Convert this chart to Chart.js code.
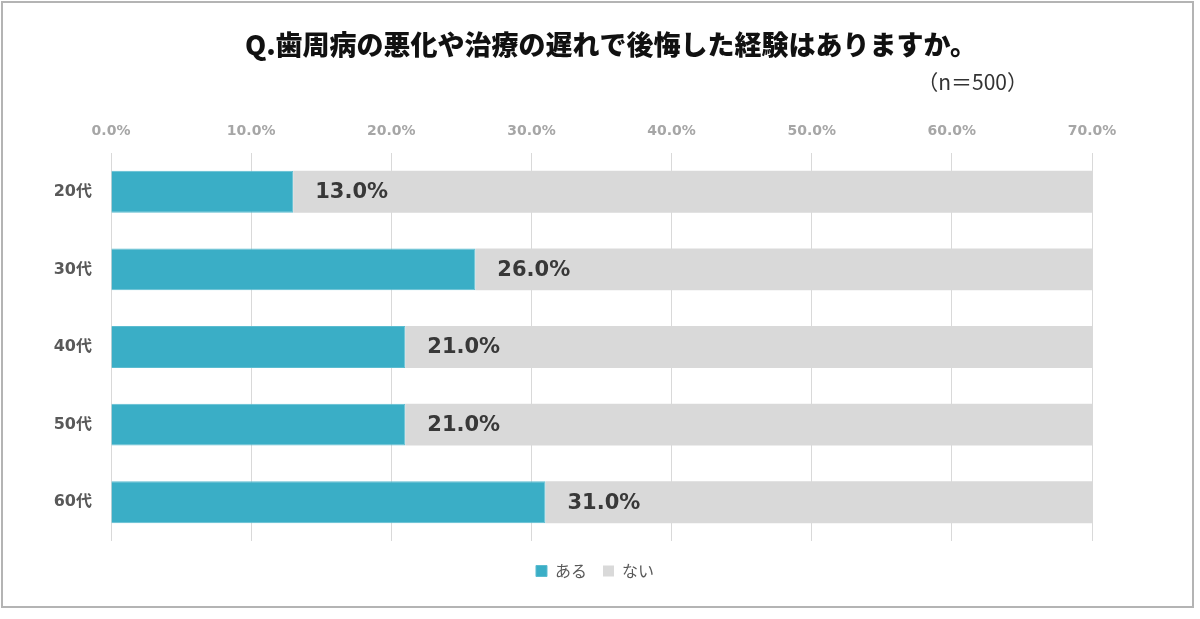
<!DOCTYPE html>
<html lang="ja">
  <head>
    <meta charset="UTF-8" />
    <title>歯周病アンケート</title>
    <style>
      html,
      body {
        margin: 0;
        padding: 0;
        background: #fff;
      }
      .frame {
        position: absolute;
        left: 1px;
        top: 1px;
        width: 1189px;
        height: 603px;
        border: 2px solid #b4b4b4;
      }
      .chart-box {
        position: absolute;
        left: 0;
        top: 0;
        width: 1200px;
        height: 619px;
      }
    </style>
  </head>
  <body>
    <div class="frame"></div>
    <div class="chart-box"><canvas id="mychart"></canvas></div>

    <script src="https://cdn.jsdelivr.net/npm/chart.js@4/dist/chart.umd.min.js"></script>
    <script>
      // データ
      const ages = ["20代", "30代", "40代", "50代", "60代"];
      const yes = [13.0, 26.0, 21.0, 21.0, 31.0];
      const no = [87.0, 74.0, 79.0, 79.0, 69.0];
      const xTicks = [0, 10, 20, 30, 40, 50, 60, 70];

      const titleText = "Q.歯周病の悪化や治療の遅れで後悔した経験はありますか。";
      const nText = "（n＝500）";

      const labelFont = "'DejaVu Sans', 'Noto Sans CJK JP', sans-serif";
      const jpFont = "'Noto Sans CJK JP', sans-serif";

      // タイトル・n数・棒の右の数値
      const textPlugin = {
        id: "textPlugin",
        afterDatasetsDraw(chart) {
          const ctx = chart.ctx;
          const meta = chart.getDatasetMeta(0);
          ctx.save();
          ctx.font = "bold 21px " + labelFont;
          ctx.fillStyle = "#383838";
          ctx.textAlign = "left";
          ctx.textBaseline = "middle";
          meta.data.forEach((bar, i) => {
            ctx.fillText(yes[i].toFixed(1) + "%", bar.x + 22, bar.y + 1);
          });

          ctx.font = "900 27px " + jpFont;
          ctx.fillStyle = "#111";
          ctx.textAlign = "center";
          ctx.fillText(titleText, 611, 45);

          ctx.font = "21px " + jpFont;
          ctx.fillStyle = "#333";
          ctx.textAlign = "right";
          ctx.fillText(nText, 1028, 82);
          ctx.restore();
        },
      };

      new Chart(document.getElementById("mychart"), {
        type: "bar",
        data: {
          labels: ages,
          datasets: [
            {
              label: "ある",
              data: yes,
              backgroundColor: "#3aaec6",
              borderColor: "#5cbcd0",
              borderWidth: 1,
            },
            {
              label: "ない",
              data: no,
              backgroundColor: "#d9d9d9",
              borderWidth: 0,
            },
          ],
        },
        options: {
          indexAxis: "y",
          responsive: true,
          maintainAspectRatio: false,
          animation: false,
          layout: {
            padding: { left: 0, right: 10, top: 111, bottom: 30 },
          },
          datasets: {
            bar: { barPercentage: 0.54, categoryPercentage: 1 },
          },
          scales: {
            x: {
              position: "top",
              stacked: true,
              min: 0,
              max: 70,
              afterBuildTicks(scale) {
                scale.ticks = xTicks.map((v) => ({ value: v }));
              },
              afterFit(scale) {
                scale.height = 42;
              },
              ticks: {
                color: "#a6a6a6",
                font: { family: labelFont, size: 14, weight: "bold" },
                padding: 13,
                callback: (v) => v.toFixed(1) + "%",
              },
              grid: { color: "#d9d9d9", drawTicks: false },
              border: { display: false },
            },
            y: {
              stacked: true,
              afterFit(scale) {
                scale.width = 111;
              },
              ticks: {
                color: "#595959",
                font: { family: labelFont, size: 16, weight: "bold" },
                padding: 11,
              },
              grid: { display: false },
              border: { display: false },
            },
            // 右側の余白用 (何も描かない)
            y2: {
              axis: "y",
              position: "right",
              afterFit(scale) {
                scale.width = 98;
              },
              ticks: { display: false },
              grid: { display: false },
              border: { display: false },
            },
          },
          plugins: {
            title: { display: false },
            legend: {
              position: "bottom",
              title: { display: true, text: "", font: { size: 5 }, padding: 0 },
              labels: {
                boxWidth: 11,
                boxHeight: 11,
                color: "#595959",
                font: { family: jpFont, size: 16 },
                padding: 16,
              },
            },
            tooltip: { enabled: false },
          },
        },
        plugins: [textPlugin],
      });
    </script>
  </body>
</html>
